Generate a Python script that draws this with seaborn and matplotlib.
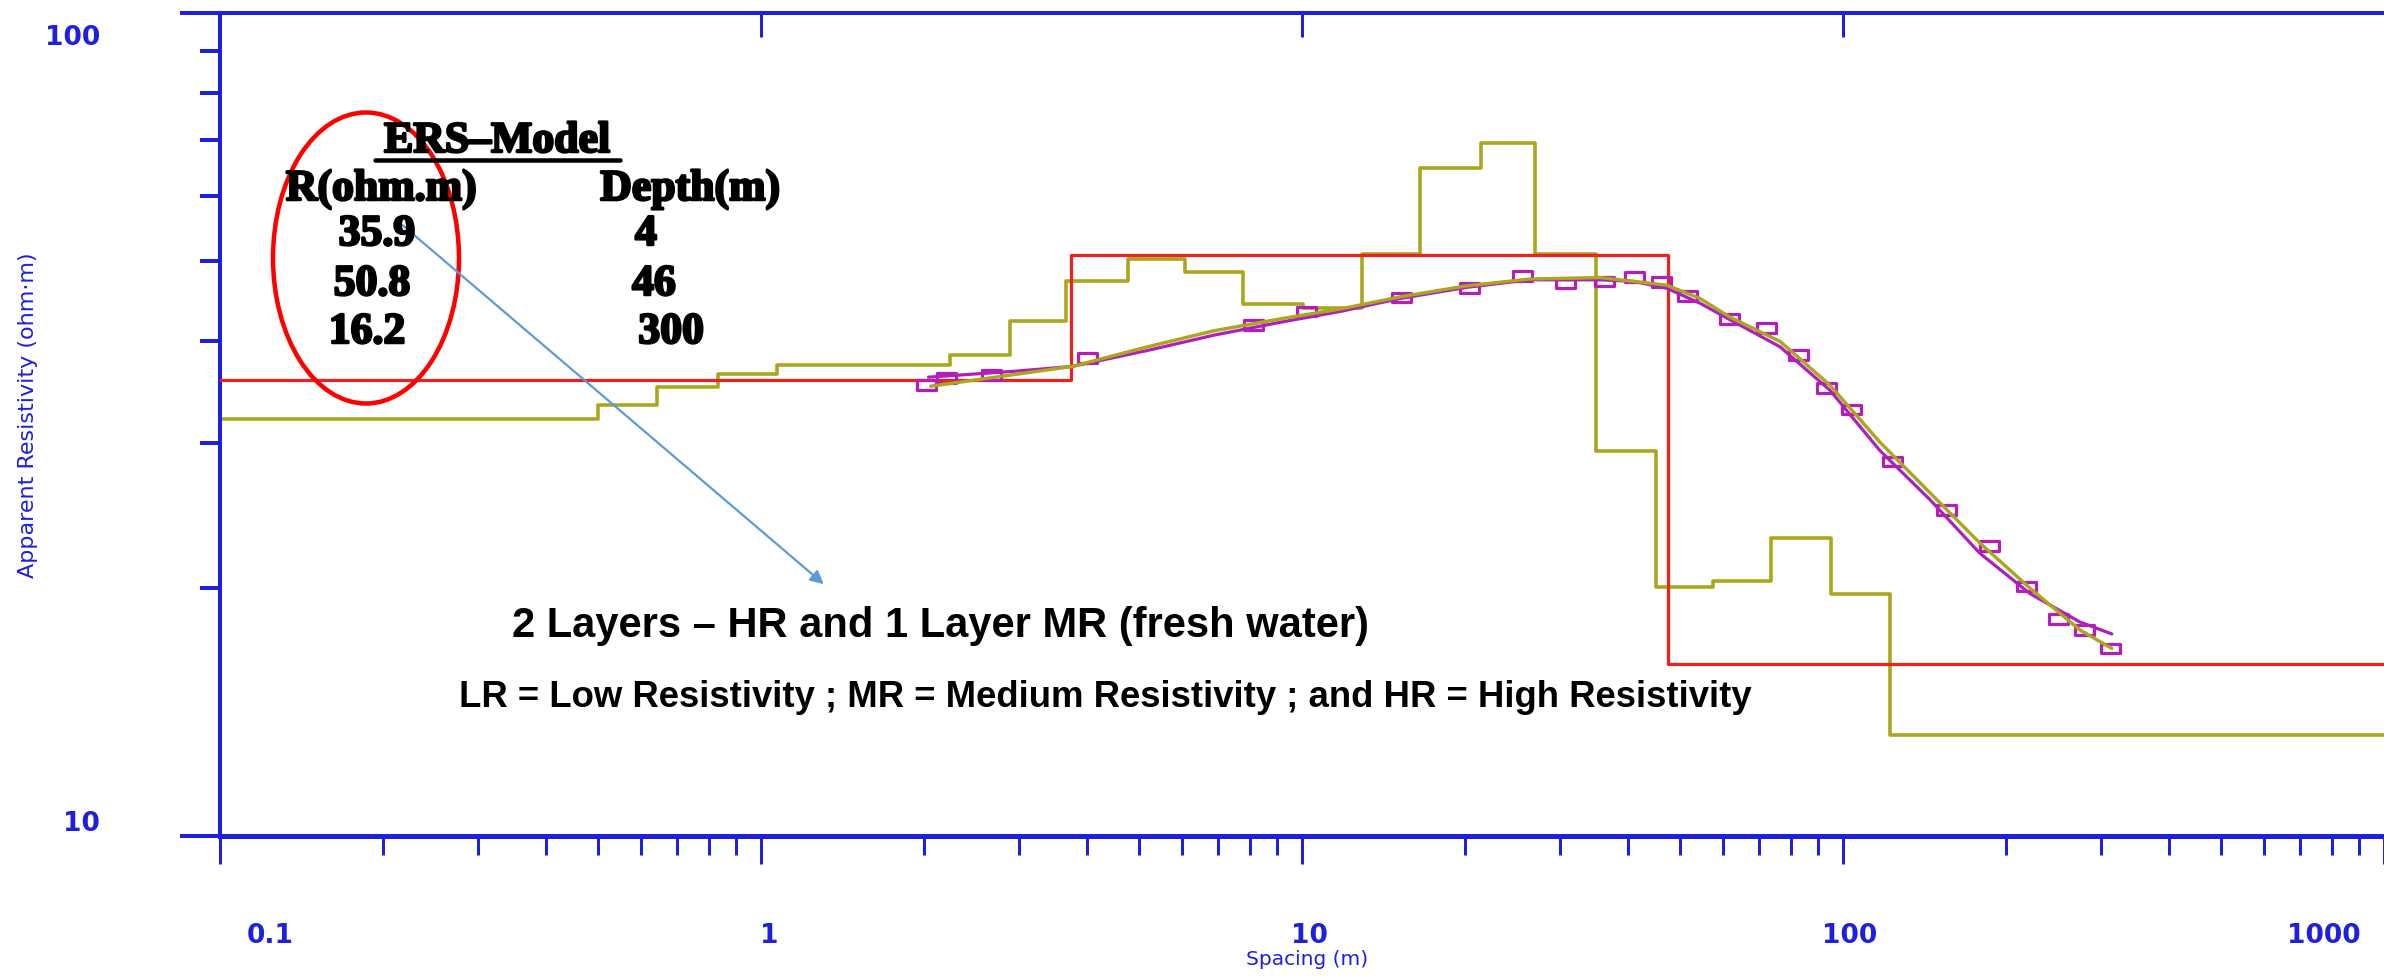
import numpy as np
import pandas as pd
import matplotlib
matplotlib.use("Agg")
import matplotlib.pyplot as plt
import seaborn as sns
from matplotlib.path import Path
from matplotlib.patches import Ellipse, FancyArrowPatch
from matplotlib.lines import Line2D
from matplotlib.ticker import LogLocator, NullFormatter, FixedLocator, NullLocator
from matplotlib.transforms import ScaledTranslation
from matplotlib import font_manager
import matplotlib.patheffects as pe

# ---------------- data ----------------
# Interpreted 3-layer model: resistivity per layer and layer bottom depths
model_res = [35.8, 50.8, 16.2]
model_depth = [3.74, 47.5]

# Multi-layer (smooth) inversion model
multi_depth = [0.50, 0.643, 0.832, 1.07, 2.24, 2.88, 3.67, 4.76, 6.08, 7.79, 10.03,
               12.9, 16.5, 21.4, 26.96, 34.9, 45.1, 57.5, 73.7, 95.0, 122.0]
multi_res = [32.1, 33.35, 35.1, 36.4, 37.35, 38.4, 42.2, 47.2, 50.2, 48.4, 44.3,
             43.8, 51.0, 64.9, 69.5, 51.0, 29.4, 20.06, 20.4, 23.0, 19.7, 13.27]

# Field data (apparent resistivity vs spacing)
obs_spacing = [2.02, 2.2, 2.67, 4.02, 8.12, 10.2, 15.3, 20.4, 25.6, 30.7, 36.3, 41.2,
               46.2, 51.6, 61.6, 72.2, 82.6, 93.3, 103.5, 123.5, 155.5, 186.5, 218.5,
               250.0, 280.0, 312.0]
obs_rho = [35.3, 36.0, 36.3, 38.1, 41.8, 43.4, 45.1, 46.3, 47.9, 46.9, 47.2, 47.8,
           47.1, 45.3, 42.5, 41.4, 38.4, 35.0, 33.0, 28.5, 24.9, 22.5, 20.1,
           18.35, 17.8, 16.9]

# Calculated curve of the 3-layer model (magenta)
calc3_spacing = [2.04, 2.94, 3.76, 5.18, 6.87, 9.13, 11.8, 15.2, 20.1, 26.3, 35.6, 41.0,
                 47.2, 54.4, 61.8, 76.5, 94.6, 117.0, 145.0, 179.0, 221.7, 274.0, 314.0]
calc3_rho = [36.1, 36.7, 37.2, 38.9, 40.6, 42.1, 43.4, 45.0, 46.4, 47.4, 47.4, 47.2,
             46.3, 44.4, 42.4, 39.3, 34.8, 29.4, 25.6, 22.06, 19.7, 18.2, 17.6]

# Calculated curve of the multi-layer model (olive)
calcm_spacing = [2.06, 3.76, 5.18, 6.87, 9.13, 11.8, 15.2, 20.1, 26.3, 35.6, 47.2, 54.4,
                 61.8, 76.5, 94.6, 117.0, 145.0, 179.0, 221.7, 274.0, 314.0]
calcm_rho = [35.2, 37.2, 39.3, 41.1, 42.5, 43.7, 45.2, 46.6, 47.5, 47.7, 46.7, 45.0,
             42.7, 39.9, 35.3, 30.1, 26.1, 22.7, 20.0, 17.8, 16.9]

x_ticks = [0.1, 1, 10, 100, 1000]
x_ticklabels = ["0.1", "1", "10", "100", "1000"]
y_ticks = [10, 100]
y_ticklabels = ["10", "100"]
XMIN, XMAX = 0.1, 1000
YMIN, YMAX = 10, 100

# ---------------- style ----------------
BLUE = "#1f1fe0"
RED = "#ee1f1f"
OLIVE = "#aaa61e"
MAG = "#b01fb8"
DPI = 100
W, H = 2384, 980

sns.set_style("white")
plt.rcParams["font.family"] = ["DejaVu Sans"]
plt.rcParams["text.color"] = "black"

fig = plt.figure(figsize=(W / DPI, H / DPI), dpi=DPI)
L, R, B, T = 220, 2384, 836, 13
ax = fig.add_axes([L / W, 1 - B / H, (R - L) / W, (B - T) / H])
ax.set_xscale("log")
ax.set_yscale("log")
ax.set_xlim(XMIN, XMAX)
ax.set_ylim(YMIN, YMAX)

def pt(px):
    return px * 72.0 / DPI

# step models
mx = [XMIN] + multi_depth + [XMAX]
my = multi_res + [multi_res[-1]]
df_multi = pd.DataFrame({"x": mx, "y": my})
sns.lineplot(data=df_multi, x="x", y="y", drawstyle="steps-post", color=OLIVE,
             lw=pt(3.6), estimator=None, sort=False, ax=ax, zorder=2)

rx = [XMIN] + model_depth + [XMAX]
ry = model_res + [model_res[-1]]
df_model = pd.DataFrame({"x": rx, "y": ry})
sns.lineplot(data=df_model, x="x", y="y", drawstyle="steps-post", color=RED,
             lw=pt(3.2), estimator=None, sort=False, ax=ax, zorder=3)

# observed data - open rectangles
rect = Path([(-1, -0.5), (1, -0.5), (1, 0.5), (-1, 0.5), (-1, -0.5)],
            [Path.MOVETO, Path.LINETO, Path.LINETO, Path.LINETO, Path.CLOSEPOLY])
df_obs = pd.DataFrame({"x": obs_spacing, "y": obs_rho})
sns.scatterplot(data=df_obs, x="x", y="y", marker=rect, s=pt(19) ** 2,
                facecolors="none", edgecolors=MAG, linewidths=pt(3.2), ax=ax, zorder=4)

df_c3 = pd.DataFrame({"x": calc3_spacing, "y": calc3_rho})
sns.lineplot(data=df_c3, x="x", y="y", color=MAG, lw=pt(3.2), estimator=None,
             sort=False, ax=ax, zorder=5)
df_cm = pd.DataFrame({"x": calcm_spacing, "y": calcm_rho})
sns.lineplot(data=df_cm, x="x", y="y", color=OLIVE, lw=pt(3.4), estimator=None,
             sort=False, ax=ax, zorder=6)

# ---------------- axes styling ----------------
ax.spines["right"].set_visible(False)
ax.spines["left"].set_color(BLUE)
ax.spines["left"].set_linewidth(pt(4))
ax.spines["bottom"].set_color(BLUE)
ax.spines["bottom"].set_linewidth(pt(5))
ax.spines["top"].set_color(BLUE)
ax.spines["top"].set_linewidth(pt(4))

ax.xaxis.set_major_locator(FixedLocator(x_ticks))
ax.set_xticklabels(x_ticklabels)
ax.xaxis.set_minor_locator(LogLocator(base=10, subs=np.arange(2, 10)))
ax.xaxis.set_minor_formatter(NullFormatter())
ax.yaxis.set_major_locator(FixedLocator(y_ticks))
ax.set_yticklabels(y_ticklabels)
ax.yaxis.set_minor_locator(LogLocator(base=10, subs=np.arange(2, 10)))
ax.yaxis.set_minor_formatter(NullFormatter())

ax.tick_params(axis="x", which="both", bottom=True, top=False)
ax.tick_params(axis="y", which="both", left=True, right=False)
ax.tick_params(axis="x", which="major", direction="out", length=pt(28), width=pt(3),
               color=BLUE, labelcolor=BLUE, labelsize=19, pad=pt(59))
ax.tick_params(axis="x", which="minor", direction="out", length=pt(19), width=pt(3),
               color=BLUE)
ax.tick_params(axis="y", which="major", direction="out", length=pt(40), width=pt(4),
               color=BLUE, labelcolor=BLUE, labelsize=19, pad=pt(80))
ax.tick_params(axis="y", which="minor", direction="out", length=pt(20), width=pt(4),
               color=BLUE)
for lab in ax.get_xticklabels() + ax.get_yticklabels():
    lab.set_fontweight("bold")

# tick-label offsets as in the original software
x_off = [50, 8, 7, 7, -60]
for lab, dx in zip(ax.get_xticklabels(), x_off):
    lab.set_transform(lab.get_transform() + ScaledTranslation(dx / DPI, 0, fig.dpi_scale_trans))
y_off = [15, -22]
for lab, dy in zip(ax.get_yticklabels(), y_off):
    lab.set_transform(lab.get_transform() + ScaledTranslation(0, dy / DPI, fig.dpi_scale_trans))

# top ticks pointing inward
secax = ax.secondary_xaxis("top")
secax.xaxis.set_major_locator(FixedLocator([1, 10, 100]))
secax.xaxis.set_minor_locator(NullLocator())
secax.tick_params(axis="x", which="major", top=True, direction="in", length=pt(24),
                  width=pt(3), color=BLUE, labeltop=False)
secax.spines["top"].set_visible(False)

ax.set_xlabel("Spacing (m)", color=BLUE, fontsize=14.5)
ax.set_ylabel("Apparent Resistivity (ohm·m)", color=BLUE, fontsize=16)
ax.xaxis.set_label_coords((1307 - L) / (R - L), (B - 950) / (B - T))
ax.yaxis.set_label_coords((38 - L) / (R - L), (B - 415) / (B - T))

# ---------------- annotations ----------------
def fx(px):
    return px / W

def fy(py):
    return 1 - py / H

serif_bold = font_manager.FontProperties(family="Liberation Serif", weight="bold", size=31.5)
embolden = [pe.withStroke(linewidth=1.8, foreground="black")]
tab_kw = dict(fontproperties=serif_bold, color="black", ha="center", va="baseline",
              path_effects=embolden)
fig.text(fx(497), fy(152), "ERS–Model", **tab_kw)
fig.add_artist(Line2D([fx(375), fx(620)], [fy(160), fy(160)], color="black", lw=pt(4.5)))
fig.text(fx(381), fy(200), "R(ohm.m)", **tab_kw)
fig.text(fx(690), fy(200), "Depth(m)", **tab_kw)
tab_r = ["35.9", "50.8", "16.2"]
tab_d = ["4", "46", "300"]
r_cx = [377, 372, 367]
d_cx = [646, 654, 671]
base = [245, 295, 343]
for s, cx, by in zip(tab_r, r_cx, base):
    fig.text(fx(cx), fy(by), s, **tab_kw)
for s, cx, by in zip(tab_d, d_cx, base):
    fig.text(fx(cx), fy(by), s, **tab_kw)

fig.add_artist(Ellipse((fx(366), fy(258)), 186 / W, 291 / H, fill=False,
                       edgecolor="#ff0000", lw=pt(4.5), transform=fig.transFigure))

fig.add_artist(FancyArrowPatch(
    (fx(400), fy(223)), (fx(826), fy(586)), transform=fig.transFigure,
    arrowstyle="-|>,head_length=8,head_width=4", color="#5b9bd5", lw=pt(2.2)))

sans_bold = "Liberation Sans"
fig.text(fx(940), fy(637), "2 Layers – HR and 1 Layer MR (fresh water)", family=sans_bold,
         weight="bold", fontsize=30, color="black", ha="center", va="baseline")
fig.text(fx(1105), fy(707),
         "LR = Low Resistivity ; MR = Medium Resistivity ; and HR = High Resistivity",
         family=sans_bold, weight="bold", fontsize=26.3, color="black", ha="center",
         va="baseline")

fig.savefig("out.png", dpi=DPI)
